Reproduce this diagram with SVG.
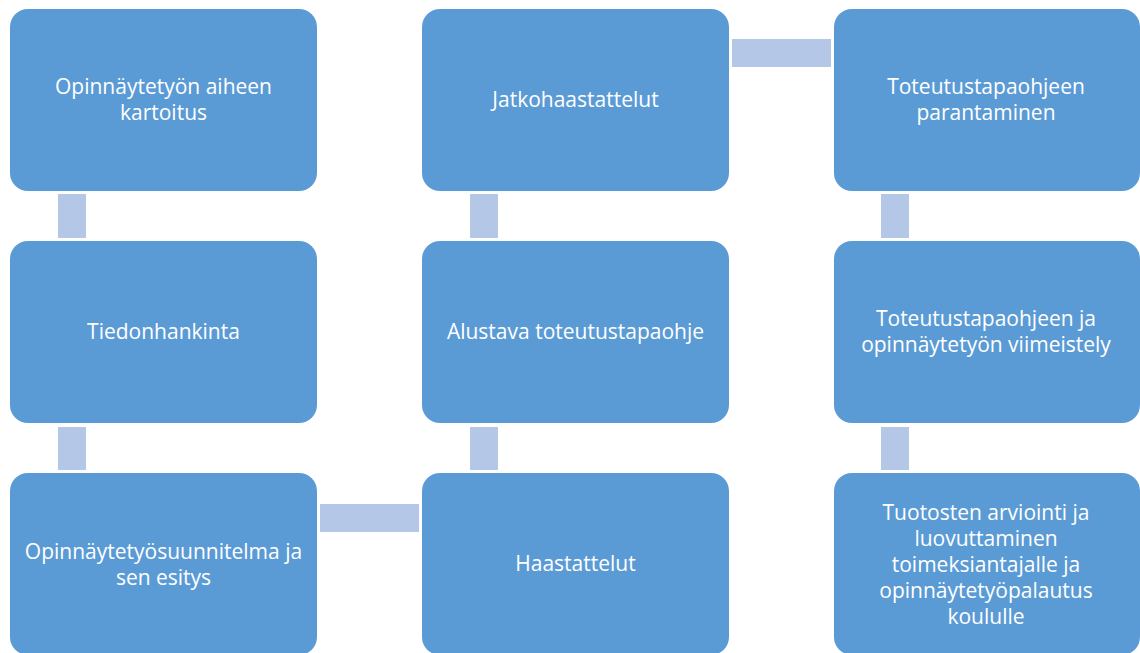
<svg xmlns="http://www.w3.org/2000/svg" width="1140" height="653" viewBox="0 0 1140 653">
<style>
.box{fill:#5B9BD5;}
.con{fill:#B4C7E7;}
.t{fill:#FFFFFF;font-family:"Open Sans","Noto Sans","Liberation Sans",sans-serif;font-size:21px;text-anchor:middle;}
</style>
<rect width="1140" height="653" fill="#FFFFFF"/>
<g id="connectors">
<rect class="con" x="58" y="194" width="28" height="44"/>
<rect class="con" x="58" y="427" width="28" height="43"/>
<rect class="con" x="320" y="504" width="99" height="28"/>
<rect class="con" x="470" y="427" width="28" height="43"/>
<rect class="con" x="470" y="194" width="28" height="44"/>
<rect class="con" x="732" y="39" width="99" height="28"/>
<rect class="con" x="881" y="194" width="28" height="44"/>
<rect class="con" x="881" y="427" width="28" height="43"/>
</g>
<g id="n1"><rect class="box" x="10" y="9" width="307" height="182" rx="18"/>
<text class="t" x="163.5" y="94">Opinnäytetyön aiheen</text><text class="t" x="163.5" y="120">kartoitus</text></g>
<g id="n2"><rect class="box" x="10" y="241" width="307" height="182" rx="18"/>
<text class="t" x="163.5" y="339">Tiedonhankinta</text></g>
<g id="n3"><rect class="box" x="10" y="473" width="307" height="182" rx="18"/>
<text class="t" x="163.5" y="559">Opinnäytetyösuunnitelma ja</text><text class="t" x="163.5" y="585">sen esitys</text></g>
<g id="n4"><rect class="box" x="422" y="473" width="307" height="182" rx="18"/>
<text class="t" x="575.5" y="571">Haastattelut</text></g>
<g id="n5"><rect class="box" x="422" y="241" width="307" height="182" rx="18"/>
<text class="t" x="575.5" y="339">Alustava toteutustapaohje</text></g>
<g id="n6"><rect class="box" x="422" y="9" width="307" height="182" rx="18"/>
<text class="t" x="575.5" y="107">Jatkohaastattelut</text></g>
<g id="n7"><rect class="box" x="834" y="9" width="306" height="182" rx="18"/>
<text class="t" x="986" y="94">Toteutustapaohjeen</text><text class="t" x="986" y="120">parantaminen</text></g>
<g id="n8"><rect class="box" x="834" y="241" width="306" height="182" rx="18"/>
<text class="t" x="986" y="326">Toteutustapaohjeen ja</text><text class="t" x="986" y="352">opinnäytetyön viimeistely</text></g>
<g id="n9"><rect class="box" x="834" y="473" width="306" height="182" rx="18"/>
<text class="t" x="986" y="520">Tuotosten arviointi ja</text><text class="t" x="986" y="546">luovuttaminen</text><text class="t" x="986" y="572">toimeksiantajalle ja</text><text class="t" x="986" y="598">opinnäytetyöpalautus</text><text class="t" x="986" y="624">koululle</text></g>
</svg>
